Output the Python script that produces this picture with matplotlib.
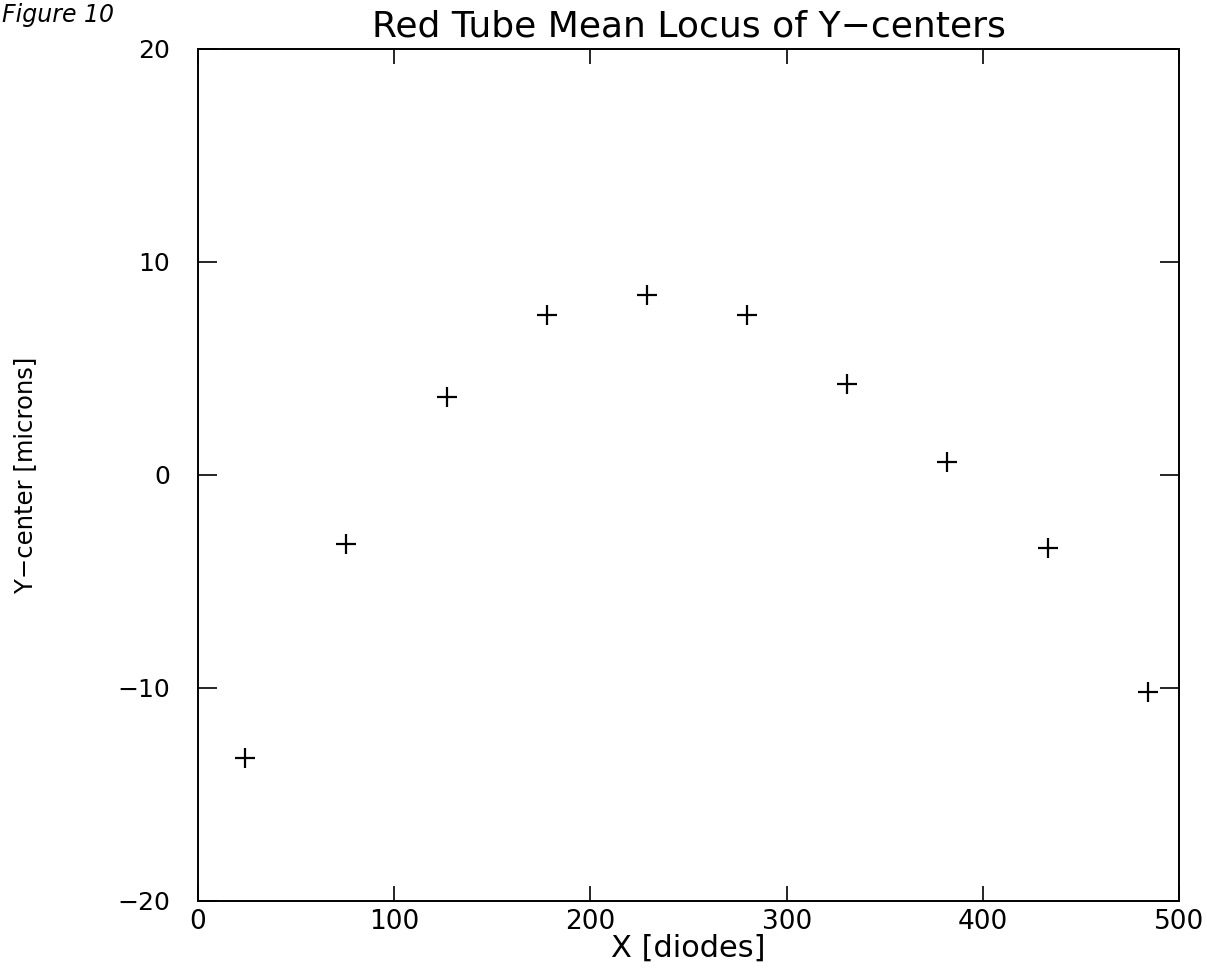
import numpy as np
import matplotlib
matplotlib.use('Agg')
from matplotlib import pyplot as plt

# mean Y-center per diode block
x_diodes = [24.1, 75.4, 126.8, 177.7, 228.7, 279.8, 330.6, 381.5, 433.1, 484.2]
y_center = [-13.3, -3.24, 3.63, 7.51, 8.45, 7.51, 4.27, 0.62, -3.43, -10.2]

x_ticks = [0, 100, 200, 300, 400, 500]
y_ticks = [-20, -10, 0, 10, 20]

plt.rcParams['font.family'] = ['DejaVu Sans']

fig = plt.figure(figsize=(12.07, 9.74), dpi=100)
ax = fig.add_axes([0.164, 0.075, 0.813, 0.875])

ax.plot(x_diodes, y_center, linestyle='none', marker='+', color='black',
        markersize=15, markeredgewidth=1.6)

ax.set_xlim(0, 500)
ax.set_ylim(-20, 20)
ax.set_xticks(x_ticks)
ax.set_yticks(y_ticks)
ax.set_yticklabels([str(v).replace('-', '\u2212') for v in y_ticks])

ax.tick_params(axis='x', direction='in', top=True, bottom=True, length=11,
               width=1.2, labelsize=19, pad=6)
ax.tick_params(axis='y', direction='in', left=True, right=True, length=14,
               width=1.2, labelsize=18, pad=20)
for s in ax.spines.values():
    s.set_linewidth(1.4)

ax.set_title('Red Tube Mean Locus of Y\u2212centers', fontsize=26, pad=9)
ax.set_xlabel('X [diodes]', fontsize=22, labelpad=-1)
ax.set_ylabel('Y\u2212center [microns]', fontsize=17.5, labelpad=58)

# handwritten figure number in the corner
fig.text(0.002, 0.985, 'Figure 10', fontsize=17, style='italic',
         va='center', ha='left', color='black')

fig.savefig('out.png', dpi=100, facecolor='white')
